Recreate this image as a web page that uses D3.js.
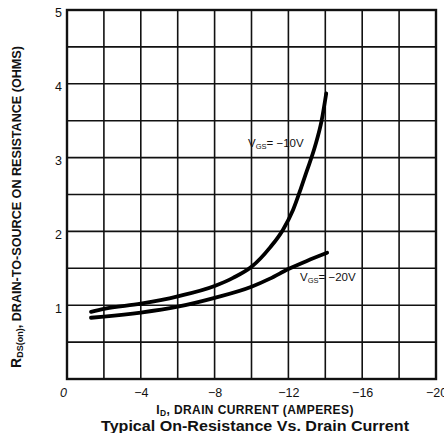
<!DOCTYPE html>
<html><head><meta charset="utf-8">
<script src="https://cdn.jsdelivr.net/npm/d3@7"></script>
<style>html,body{margin:0;padding:0;background:#fff;}svg{display:block;}</style>
</head><body>
<svg id="c" width="444" height="433"></svg>
<script>
// Data
const currentVgs10 = [-1.3, -2, -4, -6, -8, -9, -10, -11, -11.7, -12.25, -12.7, -13.0, -13.44, -13.8, -14.05];
const resistVgs10  = [0.91, 0.95, 1.02, 1.12, 1.26, 1.37, 1.52, 1.78, 2.02, 2.29, 2.6, 2.82, 3.15, 3.5, 3.87];
const currentVgs20 = [-1.3, -2, -4, -6, -8, -10, -11, -12, -13, -14.1];
const resistVgs20  = [0.83, 0.845, 0.90, 0.98, 1.10, 1.25, 1.36, 1.49, 1.60, 1.71];
const xTickValues = [0, -4, -8, -12, -16, -20];
const xTickLabels = ["0", "\u22124", "\u22128", "\u221212", "\u221216", "\u221220"];
const yTickValues = [1, 2, 3, 4, 5];
const xGridValues = [0, -2, -4, -6, -8, -10, -12, -14, -16, -18, -20];
const yGridValues = [0, 0.5, 1, 1.5, 2, 2.5, 3, 3.5, 4, 4.5, 5];

const svg = d3.select("#c");
const font = "Arial, 'Liberation Sans', Helvetica, sans-serif";
const x = d3.scaleLinear().domain([0, -20]).range([67, 436]);
const y = d3.scaleLinear().domain([0, 5]).range([379, 10]);

// grid
svg.append("g").selectAll("line").data(xGridValues).join("line")
  .attr("x1", d => x(d)).attr("x2", d => x(d)).attr("y1", y(0)).attr("y2", y(5))
  .attr("stroke", "#111").attr("stroke-width", 1.6);
svg.append("g").selectAll("line").data(yGridValues).join("line")
  .attr("y1", d => y(d)).attr("y2", d => y(d)).attr("x1", x(0)).attr("x2", x(-20))
  .attr("stroke", "#111").attr("stroke-width", 1.6);
// frame
svg.append("rect").attr("x", x(0)).attr("y", y(5)).attr("width", x(-20) - x(0)).attr("height", y(0) - y(5))
  .attr("fill", "none").attr("stroke", "#111").attr("stroke-width", 2.4);

// axes (labels only)
const xAxis = d3.axisBottom(x).tickValues(xTickValues).tickSize(0).tickPadding(9)
  .tickFormat((d, i) => xTickLabels[i]);
const gx = svg.append("g").attr("transform", `translate(0,${y(0)})`).call(xAxis);
gx.select(".domain").remove();
gx.selectAll("text").attr("font-family", font).attr("font-size", 12.5).attr("fill", "#111");
gx.selectAll("text").filter(d => d === 0).attr("font-style", "italic").attr("dx", -4);

const yAxis = d3.axisLeft(y).tickValues(yTickValues).tickSize(0).tickPadding(5).tickFormat(d3.format("d"));
const gy = svg.append("g").attr("transform", `translate(${x(0)},0)`).call(yAxis);
gy.select(".domain").remove();
gy.selectAll("text").attr("font-family", font).attr("font-size", 12.5).attr("fill", "#111").attr("dy", "0.55em");

// curves
const line = d3.line().x(d => x(d[0])).y(d => y(d[1])).curve(d3.curveMonotoneX);
const s10 = currentVgs10.map((c, i) => [c, resistVgs10[i]]);
const s20 = currentVgs20.map((c, i) => [c, resistVgs20[i]]);
[s10, s20].forEach(s => {
  svg.append("path").attr("d", line(s)).attr("fill", "none").attr("stroke", "#000")
    .attr("stroke-width", 3.8).attr("stroke-linecap", "round");
});

// curve labels
function vgsLabel(px, py, val) {
  const t = svg.append("text").attr("x", px).attr("y", py).attr("font-family", font)
    .attr("font-size", 11.5).attr("fill", "#111");
  t.append("tspan").text("V");
  t.append("tspan").attr("font-size", 7.5).attr("dy", 2).text("GS");
  t.append("tspan").attr("dy", -2).text("= \u2212" + val + "V");
}
vgsLabel(248, 147, 10);
vgsLabel(300, 281, 20);

// y title
const yt = svg.append("text").attr("transform", "translate(21,207) rotate(-90)")
  .attr("text-anchor", "middle").attr("font-family", font).attr("font-weight", "bold")
  .attr("font-size", 12.6).attr("fill", "#111");
yt.append("tspan").attr("font-size", 14).text("R");
yt.append("tspan").attr("font-size", 9).attr("dy", 2).text("DS(on)");
yt.append("tspan").attr("dy", -2).text(", DRAIN-TO-SOURCE ON RESISTANCE (OHMS)");

// x title
const xt = svg.append("text").attr("x", 255).attr("y", 414).attr("text-anchor", "middle")
  .attr("font-family", font).attr("font-weight", "bold").attr("font-size", 12)
  .attr("letter-spacing", 0.4).attr("fill", "#111");
xt.append("tspan").text("I");
xt.append("tspan").attr("font-size", 8.5).attr("dy", 1.5).text("D");
xt.append("tspan").attr("dy", -1.5).text(", DRAIN CURRENT (AMPERES)");

svg.append("text").attr("x", 255).attr("y", 431).attr("text-anchor", "middle")
  .attr("font-family", font).attr("font-weight", "bold").attr("font-size", 15.5).attr("fill", "#111")
  .attr("textLength", 308).attr("lengthAdjust", "spacingAndGlyphs")
  .text("Typical On-Resistance Vs. Drain Current");
</script>
</body></html>
